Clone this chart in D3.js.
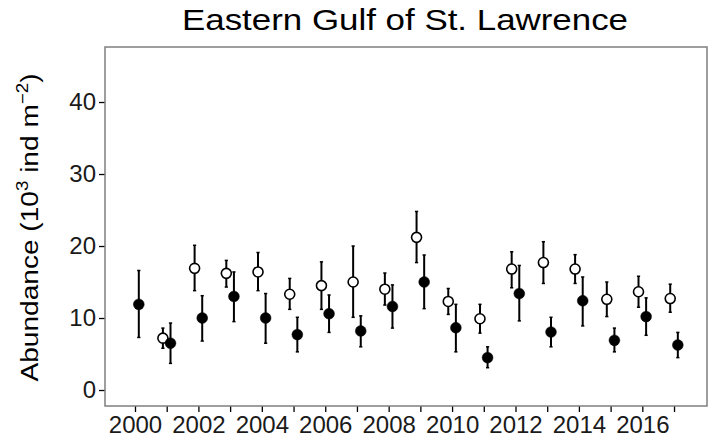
<!DOCTYPE html>
<html>
<head>
<meta charset="utf-8">
<script src="https://cdn.jsdelivr.net/npm/d3@7"></script>
<style>
  html, body { margin: 0; padding: 0; background: #fff; }
  svg { display: block; font-family: "Liberation Sans", Arial, sans-serif; }
</style>
</head>
<body>
<svg id="chart" width="715" height="444"></svg>
<script>
// Survey years
const years = [2000, 2001, 2002, 2003, 2004, 2005, 2006, 2007, 2008,
               2009, 2010, 2011, 2012, 2013, 2014, 2015, 2016, 2017];

// Open symbols (null where no survey)
const openMean = [null, 7.2, 16.9, 16.2, 16.4, 13.3, 14.5, 15.0, 14.0,
                  21.2, 12.3, 9.9, 16.8, 17.7, 16.8, 12.6, 13.65, 12.7];
const openLow  = [null, 5.8, 13.8, 14.3, 13.8, 11.2, 11.2, 10.1, 11.8,
                  17.7, 10.5, 7.9, 14.2, 14.8, 14.8, 10.2, 11.5, 10.8];
const openHigh = [null, 8.6, 20.1, 18.0, 19.1, 15.5, 17.8, 20.0, 16.25,
                  24.8, 14.1, 11.9, 19.2, 20.6, 18.8, 15.0, 15.8, 14.7];

// Filled symbols
const filledMean = [11.9, 6.5, 10.0, 13.0, 10.0, 7.7, 10.6, 8.2, 11.6,
                    15.0, 8.65, 4.5, 13.4, 8.05, 12.4, 6.9, 10.2, 6.25];
const filledLow  = [7.3, 3.7, 6.8, 9.5, 6.5, 5.3, 8.0, 6.0, 8.6,
                    11.3, 5.3, 3.1, 9.6, 6.0, 8.9, 5.3, 7.6, 4.5];
const filledHigh = [16.6, 9.3, 13.1, 16.4, 13.4, 10.1, 13.2, 10.3, 14.6,
                    18.75, 11.9, 6.0, 17.3, 10.1, 15.7, 8.6, 12.8, 8.0];

const yTicks = [0, 10, 20, 30, 40];
const xTicks = years;
const xLabelled = [2000, 2002, 2004, 2006, 2008, 2010, 2012, 2014, 2016];

const titleText = "Eastern Gulf of St. Lawrence";

// Panel geometry
const panel = { left: 105, right: 707, top: 47, bottom: 406 };
const dodge = 0.12;

const svg = d3.select("#chart");

const x = d3.scaleLinear().domain([1999.054, 2018.04]).range([panel.left, panel.right]);
const y = d3.scaleLinear().domain([-2.22, 47.64]).range([panel.bottom, panel.top]);

// Build point records from the arrays
const openPts = years.map((yr, i) => ({ yr, m: openMean[i], lo: openLow[i], hi: openHigh[i] }))
  .filter(d => d.m !== null);
const filledPts = years.map((yr, i) => ({ yr, m: filledMean[i], lo: filledLow[i], hi: filledHigh[i] }));

// Axes
const xAxis = d3.axisBottom(x).tickValues(xTicks).tickSize(6).tickPadding(4)
  .tickFormat(d => xLabelled.includes(d) ? String(d) : "");
const yAxis = d3.axisLeft(y).tickValues(yTicks).tickSize(6).tickPadding(3);

const gx = svg.append("g").attr("transform", `translate(0,${panel.bottom})`).call(xAxis);
const gy = svg.append("g").attr("transform", `translate(${panel.left},0)`).call(yAxis);

[gx, gy].forEach(g => {
  g.select(".domain").remove();
  g.selectAll(".tick line").attr("stroke", "#000").attr("stroke-width", 1.3);
  g.selectAll(".tick text").attr("fill", "#1a1a1a").attr("font-size", 24)
    .attr("font-family", "'Liberation Sans', Arial, sans-serif");
});

// Panel border
svg.append("rect")
  .attr("x", panel.left).attr("y", panel.top)
  .attr("width", panel.right - panel.left).attr("height", panel.bottom - panel.top)
  .attr("fill", "none").attr("stroke", "#7f7f7f").attr("stroke-width", 1.5);

// Error bars and points
function drawSeries(data, offset, filled) {
  const g = svg.append("g");
  const cap = 1.6;
  g.selectAll("line.bar").data(data).join("line")
    .attr("x1", d => x(d.yr + offset)).attr("x2", d => x(d.yr + offset))
    .attr("y1", d => y(d.lo)).attr("y2", d => y(d.hi))
    .attr("stroke", "#000").attr("stroke-width", 2);
  ["lo", "hi"].forEach(k => {
    g.selectAll("line.cap-" + k).data(data).join("line")
      .attr("x1", d => x(d.yr + offset) - cap).attr("x2", d => x(d.yr + offset) + cap)
      .attr("y1", d => y(d[k])).attr("y2", d => y(d[k]))
      .attr("stroke", "#000").attr("stroke-width", 1.5);
  });
  g.selectAll("circle").data(data).join("circle")
    .attr("cx", d => x(d.yr + offset)).attr("cy", d => y(d.m))
    .attr("r", filled ? 5.4 : 5)
    .attr("fill", filled ? "#000" : "#fff")
    .attr("stroke", "#000").attr("stroke-width", filled ? 0.5 : 1.6);
}
drawSeries(openPts, -dodge, false);
drawSeries(filledPts, dodge, true);

// Title (wide setting)
svg.append("text")
  .attr("x", 182).attr("y", 30)
  .attr("font-size", 30).attr("fill", "#000")
  .attr("textLength", 446).attr("lengthAdjust", "spacingAndGlyphs")
  .text(titleText);

// Y-axis label with superscripts, stretched along its run
const yl = svg.append("text")
  .attr("transform", `translate(38,${(383 + 72) / 2}) rotate(-90) scale(1.17,1)`)
  .attr("text-anchor", "middle")
  .attr("font-size", 24).attr("fill", "#000");
yl.append("tspan").text("Abundance (10");
yl.append("tspan").attr("font-size", 16).attr("dy", -10).text("3");
yl.append("tspan").attr("dy", 10).text(" ind m");
yl.append("tspan").attr("font-size", 16).attr("dy", -10).text("\u22122");
yl.append("tspan").attr("dy", 10).text(")");
</script>
</body>
</html>
